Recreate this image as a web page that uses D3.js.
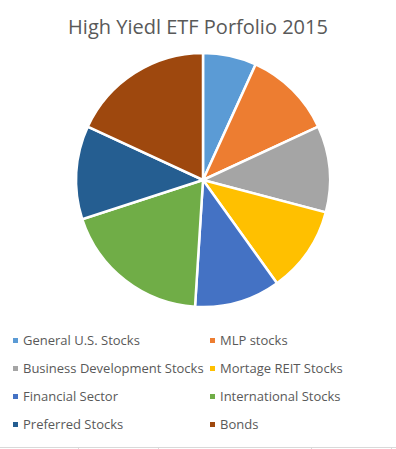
<!DOCTYPE html>
<html>
<head>
<meta charset="utf-8">
<script src="https://cdn.jsdelivr.net/npm/d3@7"></script>
<style>
  body { margin: 0; background: #fff; }
  svg { display: block; font-family: "Open Sans", "Noto Sans", sans-serif; }
</style>
</head>
<body>
<div id="chart"></div>
<script>
const categories = ["General U.S. Stocks", "MLP stocks", "Business Development Stocks", "Mortage REIT Stocks",
    "Financial Sector", "International Stocks", "Preferred Stocks", "Bonds"];
const shares = [6.8, 11.3, 11.0, 11.0, 10.9, 19.0, 11.9, 18.1];
const colors = ["#5B9BD5", "#ED7D31", "#A5A5A5", "#FFC000", "#4472C4", "#70AD47", "#255E91", "#9E480E"];

const width = 396, height = 449;
const data = categories.map((c, i) => ({ name: c, value: shares[i] }));

const svg = d3.select("#chart").append("svg")
    .attr("width", width)
    .attr("height", height);

svg.append("text")
    .attr("x", 198)
    .attr("y", 34)
    .attr("text-anchor", "middle")
    .style("font-size", "20px")
    .style("fill", "#595959")
    .text("High Yiedl ETF Porfolio 2015");

const color = d3.scaleOrdinal().domain(categories).range(colors);

const pie = d3.pie().value(d => d.value).sort(null);
const arc = d3.arc().innerRadius(0).outerRadius(127);

const g = svg.append("g").attr("transform", "translate(203,180)");
g.selectAll("path")
    .data(pie(data))
    .join("path")
    .attr("d", arc)
    .attr("fill", d => color(d.data.name))
    .attr("stroke", "#fff")
    .style("stroke-width", "2.5px");

// legend, two columns
const legend = svg.append("g");
const item = legend.selectAll("g")
    .data(data)
    .join("g")
    .attr("transform", (d, i) => `translate(${i % 2 ? 210 : 13}, ${340 + Math.floor(i / 2) * 28})`);
item.append("rect")
    .attr("x", 0).attr("y", -2)
    .attr("width", 5).attr("height", 5)
    .attr("fill", d => color(d.name));
item.append("text")
    .attr("x", 10)
    .attr("y", 5)
    .style("font-size", "13px")
    .style("fill", "#595959")
    .text(d => d.name);

// faint sheet gridline at bottom
svg.append("line")
    .attr("x1", 0).attr("x2", 396)
    .attr("y1", 447.5).attr("y2", 447.5)
    .attr("stroke", "#d9d9d9");
[78, 158, 311, 391].forEach(x => {
    svg.append("line")
        .attr("x1", x + 0.5).attr("x2", x + 0.5)
        .attr("y1", 448).attr("y2", 449)
        .attr("stroke", "#d9d9d9");
});
</script>
</body>
</html>
